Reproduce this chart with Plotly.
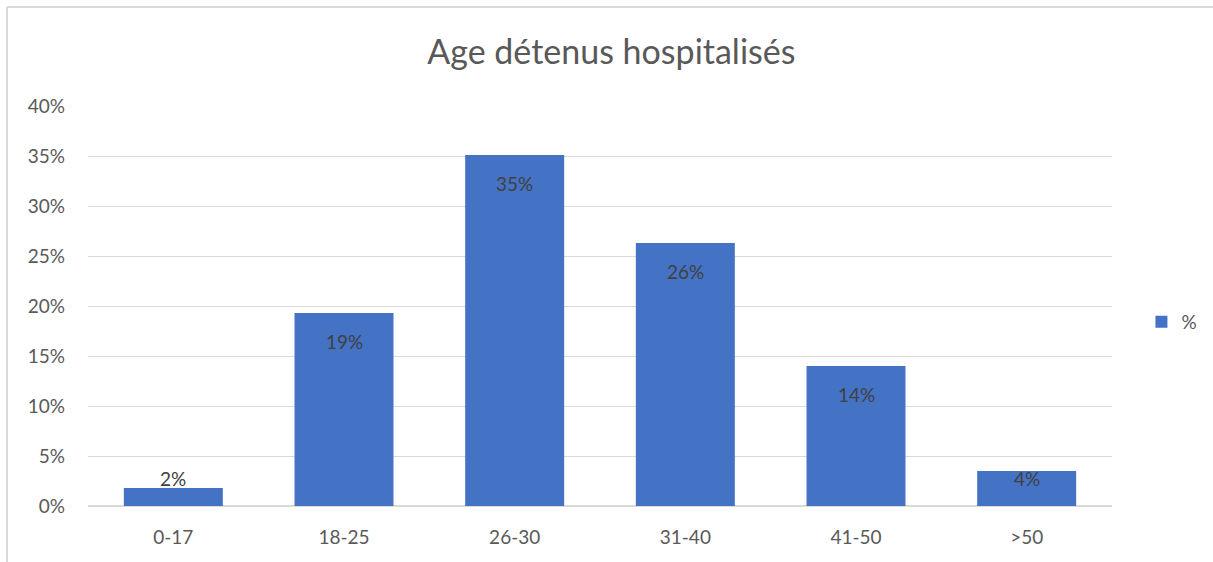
import plotly.graph_objects as go

# Data
categories = ["0-17", "18-25", "26-30", "31-40", "41-50", ">50"]
values = [1.8, 19.3, 35.1, 26.3, 14.0, 3.5]  # percent
labels = ["2%", "19%", "35%", "26%", "14%", "4%"]
y_ticks = [0, 5, 10, 15, 20, 25, 30, 35, 40]
y_ticktext = [f"{t}%" for t in y_ticks]

FONT = "Lato, Open Sans, sans-serif"
GREY = "#595959"
BAR = "#4472C4"

fig = go.Figure()
fig.add_trace(
    go.Bar(
        x=categories,
        y=values,
        name="%",
        marker=dict(color=BAR, line=dict(width=0)),
        hoverinfo="skip",
    )
)

# data labels: inside end, but kept above the axis for short bars
for cat, val, lab in zip(categories, values, labels):
    if val > 5.4:
        fig.add_annotation(x=cat, y=val, text=lab, yanchor="top", yshift=-15,
                           showarrow=False, font=dict(size=19, color="#404040", family=FONT))
    else:
        fig.add_annotation(x=cat, y=0, text=lab, yanchor="bottom", yshift=14,
                           showarrow=False, font=dict(size=19, color="#404040", family=FONT))

# chart frame (only left and top edges fall inside the picture)
frame_x0 = (7 - 88) / 1024
frame_y1 = (506 - 7) / 400
fig.add_shape(type="line", xref="paper", yref="paper",
              x0=frame_x0, x1=1.3, y0=frame_y1, y1=frame_y1,
              line=dict(color="#d9d9d9", width=2), layer="below")
fig.add_shape(type="line", xref="paper", yref="paper",
              x0=frame_x0, x1=frame_x0, y0=-0.3, y1=frame_y1,
              line=dict(color="#d9d9d9", width=2), layer="below")

fig.update_layout(
    width=1213,
    height=562,
    margin=dict(l=88, r=101, t=106, b=56, autoexpand=False),
    paper_bgcolor="white",
    plot_bgcolor="white",
    font=dict(family=FONT, size=19, color=GREY),
    title=dict(text="Age détenus hospitalisés", x=0.504, xanchor="center",
               y=1 - 52 / 562, yanchor="middle", font=dict(size=34, color=GREY)),
    bargap=0.42,
    showlegend=True,
    legend=dict(xref="container", yref="container", x=0.941, y=1 - 322 / 562,
                yanchor="middle", xanchor="left",
                font=dict(size=19, color=GREY), itemwidth=30),
)
fig.update_xaxes(showgrid=False, showline=False, ticks="", tickfont=dict(size=19),
                 ticklabelstandoff=18)
fig.update_yaxes(range=[0, 40], tickvals=y_ticks, ticktext=y_ticktext,
                 showgrid=True, gridcolor="#d9d9d9", gridwidth=1,
                 zeroline=True, zerolinecolor="#d9d9d9", zerolinewidth=2,
                 showline=False, ticks="", ticklabelstandoff=22)

fig.write_html("out.html", config={"displayModeBar": False},
               post_script="document.body.style.margin='0';")
